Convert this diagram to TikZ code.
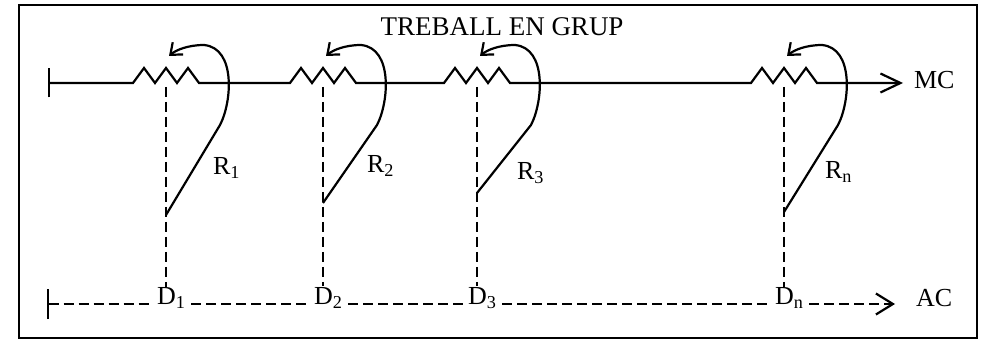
\documentclass[tikz,border=0pt]{standalone}
\usepackage{fontspec}
\setmainfont{Liberation Serif}
\usepackage{tikz}
\usetikzlibrary{arrows.meta,positioning}

\begin{document}
\begin{tikzpicture}[x=0.5pt,y=-0.5pt,line width=1.1pt,
  every node/.style={inner sep=0pt,font=\fontsize{13}{15}\selectfont},
  link/.style={dash pattern=on 5pt off 2.5pt},
  slider/.style={-{Straight Barb[length=5pt,width=8pt]}}]
  \useasboundingbox (0,0) rectangle (983,341);
  \draw (19,5) rectangle (977,338);
  \node (title) at (502,27) {\fontsize{13.5}{16}\selectfont TREBALL EN GRUP};
  \coordinate (mcstart) at (48,83);
  \coordinate (mcend) at (903,83);
  \coordinate (acstart) at (47,304);
  \coordinate (acend) at (895,304);
  \node[anchor=west] (mc) at (913,80) {MC};
  \node[anchor=west] (ac) at (915,298) {AC};
  \draw[{Bar[width=14.5pt]}-{Straight Barb[length=10pt,width=9.5pt]}] (mcstart)
    foreach \x in {166,323,477,784} { -- ({\x-33},83) -- ++(11,-15) -- ++(11,15)
      -- ++(11,-15) -- ++(11,15) -- ++(11,-15) -- ++(11,15) } -- (mcend);
  \foreach \x/\k/\foot/\rx/\ry in {166/1/215/46/168, 323/2/203/43/166, 477/3/193/39/173, 784/n/212/40/172} {
    \coordinate (tap\k) at (\x,87);
    \coordinate (foot\k) at (\x,\foot);
    \node[anchor=west,inner xsep=2pt] (D\k) at ({\x-14},298) {D\textsubscript{\k}};
    \node[anchor=west] (R\k) at ({\x+\rx},\ry) {R\textsubscript{\k}};
    \draw[link] (tap\k) -- (tap\k |- D\k.north);
    \draw[slider] (foot\k) -- ({\x+54},125) .. controls ({\x+66},102) and ({\x+70},48) .. ({\x+38},45)
      .. controls ({\x+22},45) and ({\x+10},50) .. ({\x+3},56);
  }
  \draw[link,{Bar[width=15pt]}-] (acstart) -- (D1.west |- acstart);
  \draw[link] (D1.east |- acstart) -- (D2.west |- acstart);
  \draw[link] (D2.east |- acstart) -- (D3.west |- acstart);
  \draw[link] (D3.east |- acstart) -- (Dn.west |- acstart);
  \draw[link,-{Straight Barb[length=8.5pt,width=10.5pt]}] (Dn.east |- acstart) -- (acend);
\end{tikzpicture}
\end{document}
